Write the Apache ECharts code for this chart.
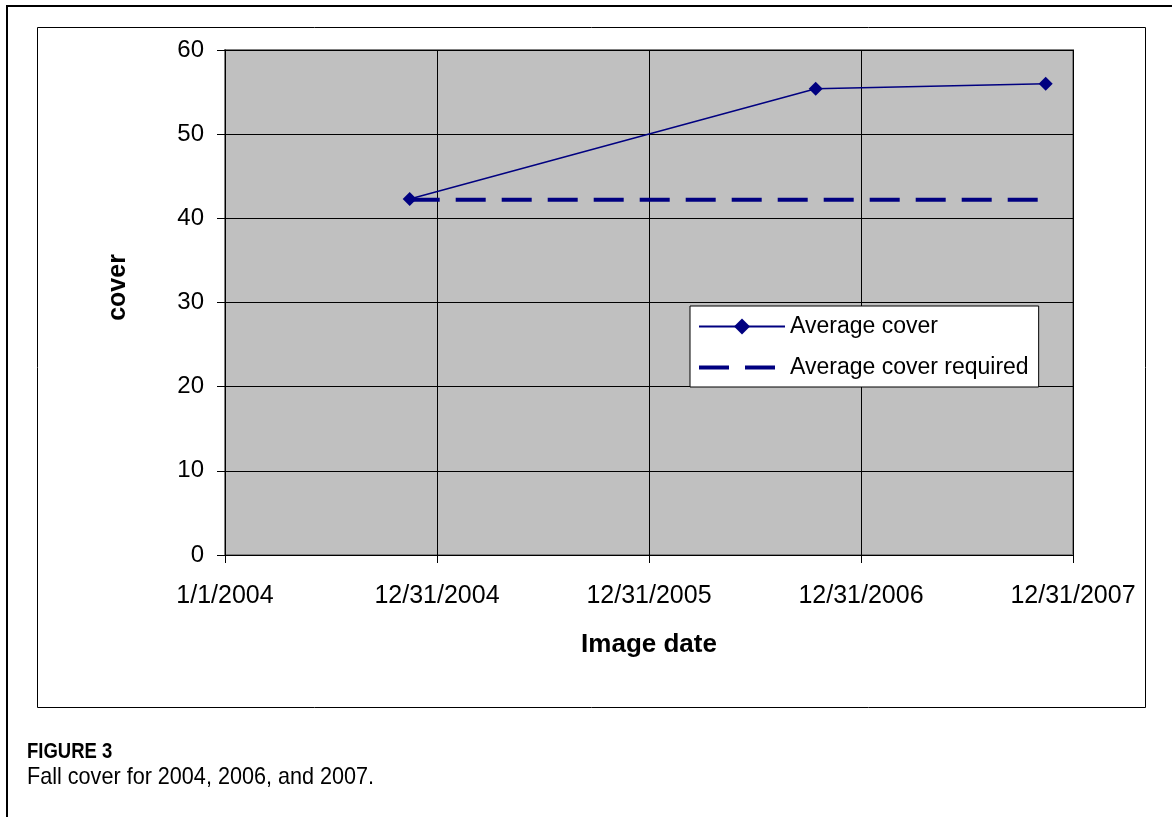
<!DOCTYPE html>
<html>
<head>
<meta charset="utf-8">
<script src="https://cdn.jsdelivr.net/npm/echarts@6/dist/echarts.min.js"></script>
<style>
  html, body { margin: 0; padding: 0; background: #fff; }
  #chart { width: 1172px; height: 817px; }
</style>
</head>
<body>
<div id="chart"></div>
<script>
// ---- data ----
const imageDates = ['2004-11-14', '2006-10-14', '2007-11-14'];
const averageCover = [42.3, 55.4, 56.0];
const averageCoverRequired = [42.2, 42.2, 42.2];
const seriesNames = ['Average cover', 'Average cover required'];
const axisStartDate = '2004-01-01';
const axisEndDate = '2007-12-31';
const tickStepDays = 365;
const yTicks = [0, 10, 20, 30, 40, 50, 60];
const xAxisTitle = 'Image date';
const yAxisTitle = 'cover';
const captionTitle = 'FIGURE 3';
const captionText = 'Fall cover for 2004, 2006, and 2007.';

// ---- helpers ----
const DAY = 86400000;
function toMs(s) { const p = s.split('-').map(Number); return Date.UTC(p[0], p[1] - 1, p[2]); }
const base = toMs(axisStartDate);
function toDays(s) { return Math.round((toMs(s) - base) / DAY); }
function fmtDays(d) {
  const dt = new Date(base + d * DAY);
  return (dt.getUTCMonth() + 1) + '/' + dt.getUTCDate() + '/' + dt.getUTCFullYear();
}

const FONT = "'Liberation Sans', Arial, sans-serif";
const NAVY = '#000080';

const chart = echarts.init(document.getElementById('chart'), null, { renderer: 'canvas' });
chart.setOption({
  animation: false,
  backgroundColor: '#ffffff',
  textStyle: { fontFamily: FONT },
  grid: {
    left: 225, top: 50, right: 99, bottom: 262,
    show: true, backgroundColor: '#C0C0C0', borderColor: '#808080', borderWidth: 2,
    containLabel: false
  },
  legend: {
    orient: 'vertical',
    left: 690, top: 306,
    width: 351,
    padding: [9, 10, 8, 7],
    itemGap: 18,
    itemWidth: 86,
    itemHeight: 20,
    backgroundColor: '#ffffff',
    borderColor: '#000000',
    borderWidth: 1,
    borderRadius: 0,
    textStyle: { fontFamily: FONT, fontSize: 23, color: '#000' },
    data: [
      { name: seriesNames[0] },
      { name: seriesNames[1], itemStyle: { opacity: 0 }, lineStyle: { width: 4, type: [30, 16], color: NAVY } }
    ]
  },
  xAxis: {
    type: 'value',
    min: 0,
    max: toDays(axisEndDate),
    interval: tickStepDays,
    name: xAxisTitle,
    nameLocation: 'middle',
    nameGap: 77,
    nameTextStyle: { fontFamily: FONT, fontSize: 26, fontWeight: 'bold', color: '#000' },
    axisLine: { show: true, onZero: false, lineStyle: { color: '#000', width: 1 } },
    axisTick: { show: true, inside: false, length: 8, lineStyle: { color: '#000' } },
    axisLabel: { fontFamily: FONT, fontSize: 25, color: '#000', margin: 29, formatter: v => fmtDays(v), showMaxLabel: true, showMinLabel: true },
    splitLine: { show: true, lineStyle: { color: '#000', width: 1 } }
  },
  yAxis: {
    type: 'value',
    min: yTicks[0],
    max: yTicks[yTicks.length - 1],
    interval: yTicks[1] - yTicks[0],
    name: yAxisTitle,
    nameLocation: 'middle',
    nameGap: 94,
    nameTextStyle: { fontFamily: FONT, fontSize: 25, fontWeight: 'bold', color: '#000', padding: [0, 0, 0, 30] },
    axisLine: { show: true, lineStyle: { color: '#000', width: 1 } },
    axisTick: { show: true, inside: false, length: 8, lineStyle: { color: '#000' } },
    axisLabel: { fontFamily: FONT, fontSize: 24, color: '#000', margin: 21 },
    splitLine: { show: true, lineStyle: { color: '#000', width: 1 } }
  },
  series: [
    {
      name: seriesNames[0],
      type: 'line',
      data: imageDates.map((d, i) => [toDays(d), averageCover[i]]),
      symbol: 'diamond',
      symbolSize: 14,
      showSymbol: true,
      lineStyle: { color: NAVY, width: 1.5 },
      itemStyle: { color: NAVY },
      z: 3
    },
    {
      name: seriesNames[1],
      type: 'line',
      data: imageDates.map((d, i) => [toDays(d), averageCoverRequired[i]]),
      symbol: 'none',
      lineStyle: { color: NAVY, width: 4, type: [30, 16] },
      itemStyle: { color: NAVY },
      z: 2
    }
  ],
  graphic: [
    { type: 'rect', shape: { x: 7, y: 6, width: 1200, height: 850 }, style: { fill: 'none', stroke: '#000', lineWidth: 2 }, z: -1, silent: true },
    { type: 'rect', shape: { x: 37.5, y: 27.5, width: 1108, height: 680 }, style: { fill: 'none', stroke: '#000', lineWidth: 1 }, z: -1, silent: true },
    { type: 'text', x: 27, y: 752, scaleX: 0.84, style: { text: captionTitle, font: "bold 22px " + FONT, fill: '#000', verticalAlign: 'middle' } },
    { type: 'text', x: 27, y: 777, scaleX: 0.9, style: { text: captionText, font: "24px " + FONT, fill: '#000', verticalAlign: 'middle' } }
  ]
});
</script>
</body>
</html>
